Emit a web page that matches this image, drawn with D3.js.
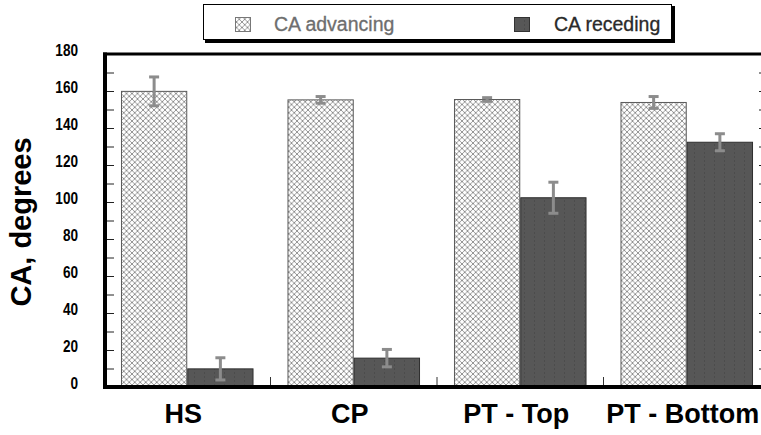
<!DOCTYPE html>
<html><head><meta charset="utf-8">
<script src="https://cdn.jsdelivr.net/npm/d3@7"></script>
<style>html,body{margin:0;padding:0;background:#fff;overflow:hidden}svg{display:block}</style>
</head><body>
<script>
const categories = ["HS", "CP", "PT - Top", "PT - Bottom"];
const seriesNames = ["CA advancing", "CA receding"];
const advancing = [159.8, 155.2, 155.4, 153.8];
const advancingErr = [7.8, 1.8, 1.0, 3.2];
const receding = [9.8, 15.6, 102.3, 132.3];
const recedingErr = [6.0, 4.7, 8.4, 4.6];
const yTicks = [0, 20, 40, 60, 80, 100, 120, 140, 160, 180];

const W = 761, H = 435;
const svg = d3.select("body").append("svg").attr("width", W).attr("height", H);
const defs = svg.append("defs");
const hatch = defs.append("pattern").attr("id", "hatch").attr("patternUnits", "userSpaceOnUse")
  .attr("width", 5.5).attr("height", 5.5);
hatch.append("rect").attr("width", 5.5).attr("height", 5.5).attr("fill", "#fff");
hatch.append("path").attr("d", "M0,0L5.5,5.5M5.5,0L0,5.5").attr("stroke", "#8a8a8a").attr("stroke-width", 0.9);
const dark = defs.append("pattern").attr("id", "dark").attr("patternUnits", "userSpaceOnUse")
  .attr("width", 10).attr("height", 4);
dark.append("rect").attr("width", 10).attr("height", 4).attr("fill", "#575757");
dark.append("rect").attr("x", 4).attr("width", 1).attr("height", 2).attr("fill", "#4c4c4c");

const x0 = 104, x1 = 770, yTop = 54, yBot = 387;
const x = d3.scaleBand().domain(categories).range([x0, x1]).paddingInner(0.204).paddingOuter(0.102);
const xs = d3.scaleBand().domain(seriesNames).range([0, x.bandwidth()]);
const y = d3.scaleLinear().domain([0, 180]).range([yBot, yTop]);

const data = [];
categories.forEach((c, i) => {
  data.push({c, s: seriesNames[0], v: advancing[i], e: advancingErr[i]});
  data.push({c, s: seriesNames[1], v: receding[i], e: recedingErr[i]});
});

// bars
svg.append("g").selectAll("rect").data(data).join("rect")
  .attr("x", d => x(d.c) + xs(d.s) + 0.5)
  .attr("y", d => y(d.v))
  .attr("width", xs.bandwidth() - 1)
  .attr("height", d => y(0) - y(d.v))
  .attr("fill", d => d.s === seriesNames[0] ? "url(#hatch)" : "url(#dark)")
  .attr("stroke", d => d.s === seriesNames[0] ? "#5a5a5a" : "#2e2e2e")
  .attr("stroke-width", 1);

// error bars
const eg = svg.append("g").attr("stroke", "#8c8c8c").attr("fill", "none");
data.forEach(d => {
  const cx = x(d.c) + xs(d.s) + xs.bandwidth() / 2;
  eg.append("line").attr("x1", cx).attr("x2", cx).attr("y1", y(d.v + d.e)).attr("y2", y(d.v - d.e)).attr("stroke-width", 3);
  [d.v + d.e, d.v - d.e].forEach(v => {
    eg.append("line").attr("x1", cx - 5).attr("x2", cx + 5).attr("y1", y(v)).attr("y2", y(v)).attr("stroke-width", 3);
  });
});

// left axis ticks (inward)
const leftAxis = d3.axisRight(y).tickValues(d3.range(0, 181, 10)).tickSize(8).tickFormat("");
const la = svg.append("g").attr("transform", `translate(${x0 + 2},0)`).call(leftAxis);
la.select(".domain").remove();
la.selectAll("line").attr("stroke", "#222");
// right axis ticks (inward)
const rightAxis = d3.axisLeft(y).tickValues(d3.range(0, 181, 10)).tickSize(8).tickFormat("");
const ra = svg.append("g").attr("transform", `translate(${x1 - 3},0)`).call(rightAxis);
ra.select(".domain").remove();
ra.selectAll("line").attr("stroke", "#222");

// tick labels
svg.append("g").selectAll("text").data(yTicks).join("text")
  .attr("transform", d => `translate(78,${y(d) - 4}) scale(0.8,1)`)
  .attr("text-anchor", "end").attr("dy", "0.36em")
  .attr("font-family", "Liberation Sans, Arial, sans-serif").attr("font-weight", "bold")
  .attr("font-size", 17).attr("fill", "#000")
  .text(d => d);

// bottom small ticks at band boundaries
const bounds = categories.slice(1).map(c => x(c) - x.step() * x.paddingInner() / 2);
svg.append("g").selectAll("line").data(bounds).join("line")
  .attr("x1", d => d).attr("x2", d => d).attr("y1", yBot - 10).attr("y2", yBot)
  .attr("stroke", "#333").attr("stroke-width", 1);

// frame
svg.append("line").attr("x1", x0 - 1).attr("x2", W).attr("y1", yTop).attr("y2", yTop).attr("stroke", "#000").attr("stroke-width", 3);
svg.append("line").attr("x1", x0 + 1).attr("x2", x0 + 1).attr("y1", yTop - 1.5).attr("y2", yBot + 2).attr("stroke", "#000").attr("stroke-width", 4);
svg.append("line").attr("x1", x0 - 1).attr("x2", W).attr("y1", yBot).attr("y2", yBot).attr("stroke", "#000").attr("stroke-width", 4);

// category labels
svg.append("g").selectAll("text").data(categories).join("text")
  .attr("x", d => x(d) + x.bandwidth() / 2 - 4).attr("y", 423)
  .attr("text-anchor", "middle")
  .attr("font-family", "Liberation Sans, Arial, sans-serif").attr("font-weight", "bold")
  .attr("font-size", 27).attr("fill", "#000")
  .text(d => d);

// y title
svg.append("text").attr("transform", "translate(31,222) rotate(-90)")
  .attr("text-anchor", "middle")
  .attr("font-family", "Liberation Sans, Arial, sans-serif").attr("font-weight", "bold")
  .attr("font-size", 29).attr("fill", "#000")
  .text("CA, degrees");

// legend
const lg = svg.append("g");
lg.append("rect").attr("x", 205).attr("y", 6).attr("width", 470).attr("height", 37).attr("fill", "#000");
lg.append("rect").attr("x", 203.5).attr("y", 4.5).attr("width", 468).attr("height", 35).attr("fill", "#fff").attr("stroke", "#000").attr("stroke-width", 1);
const legendItems = [
  {name: seriesNames[0], sx: 235, tx: 274, fill: "url(#hatch)", stroke: "#777", color: "#6e6e6e"},
  {name: seriesNames[1], sx: 514, tx: 554, fill: "url(#dark)", stroke: "#333", color: "#2a2a2a"}
];
legendItems.forEach(it => {
  lg.append("rect").attr("x", it.sx + 0.5).attr("y", 17.5).attr("width", 15).attr("height", 14)
    .attr("fill", it.fill).attr("stroke", it.stroke).attr("stroke-width", 1);
  lg.append("text").attr("x", it.tx).attr("y", 31)
    .attr("font-family", "Liberation Sans, Arial, sans-serif").attr("font-size", 19.5)
    .attr("stroke", it.color).attr("stroke-width", 0.3)
    .attr("fill", it.color).text(it.name);
});
</script>
</body></html>
